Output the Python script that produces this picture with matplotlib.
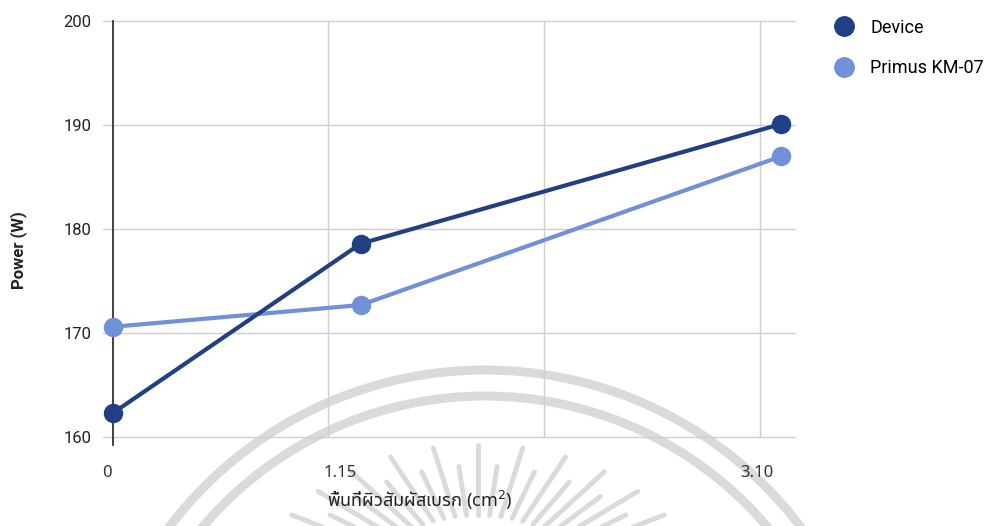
import numpy as np
import matplotlib
matplotlib.use("Agg")
import matplotlib.pyplot as plt
from matplotlib import font_manager
from matplotlib.ft2font import FT2Font
from matplotlib.patches import Arc
from matplotlib.transforms import ScaledTranslation

# contact area (cm^2) and measured power (W)
area = [0, 1.15, 3.10]
area_labels = ["0", "1.15", "3.10"]
device_power = [162.3, 178.6, 190.1]
primus_power = [170.6, 172.7, 187.0]
series_names = ["Device", "Primus KM-07"]
y_ticks = [160, 170, 180, 190, 200]
grid_x = [1, 2, 3]


def find_thai_font():
    preferred = ["Noto Sans Thai", "Noto Sans Thai UI", "Loma", "Garuda",
                 "Norasi", "Kinnari", "Tlwg Typo", "Noto Serif Thai"]
    found = {}
    for f in font_manager.fontManager.ttflist:
        try:
            cmap = FT2Font(f.fname).get_charmap()
        except Exception:
            continue
        if 0x0E1E in cmap and 0x0E34 in cmap:
            found.setdefault(f.name, f.fname)
    for name in preferred:
        if name in found:
            return name
    return next(iter(found), None)


thai_font = find_thai_font()
xlabel_family = [thai_font, "DejaVu Sans"] if thai_font else ["DejaVu Sans"]

plt.rcParams["font.family"] = ["Roboto", "DejaVu Sans"]

fig = plt.figure(figsize=(9.88, 5.26), dpi=100)

# faint seal watermark behind the chart (pixel space)
bg = fig.add_axes([0, 0, 1, 1], zorder=0)
bg.set_xlim(0, 988)
bg.set_ylim(526, 0)
bg.axis("off")
wm = "#dadada"
for r in (396, 370):
    bg.add_patch(Arc((485, 766), 2 * r, 2 * r, theta1=180, theta2=360,
                     color=wm, lw=6.5))
cx, cy = 478, 585
for i, ang in enumerate(np.linspace(18, 162, 25)):
    t = np.deg2rad(ang)
    k = 1.0 if i % 2 == 0 else 0.85
    x0, y0 = cx + 110 * np.cos(t), cy - 70 * np.sin(t)
    x1, y1 = cx + 215 * k * np.cos(t), cy - 140 * k * np.sin(t)
    bg.plot([x0, x1], [y0, y1], color=wm, lw=3.5, solid_capstyle="round")

ax = fig.add_axes([0.104, 0.169, 0.701, 0.791], zorder=1)
ax.patch.set_alpha(0)

dark = "#1f4083"
light = "#7090d9"

ax.plot(area, device_power, color=dark, lw=3, marker="o", ms=13,
        label=series_names[0], zorder=4, solid_capstyle="round")
ax.plot(area, primus_power, color=light, lw=3, marker="o", ms=13,
        label=series_names[1], zorder=3, solid_capstyle="round")

ax.set_xlim(-0.046, 3.165)
ax.set_ylim(160, 200)
ax.set_yticks(y_ticks)
ax.set_xticks(area)
ax.set_xticklabels(area_labels, family=xlabel_family, fontsize=12,
                   color="#333333")
ax.tick_params(axis="x", length=0, pad=20)
ax.tick_params(axis="y", length=0, labelsize=12, labelcolor="#222222",
               pad=8)

# nudge the area labels a little to the left
for lab, dx in zip(ax.get_xticklabels(), [-6, -21, -24]):
    lab.set_transform(lab.get_transform()
                      + ScaledTranslation(dx / 100, 0, fig.dpi_scale_trans))

for v in y_ticks:
    ax.axhline(v, color="#cfcfcf", lw=1, zorder=1, clip_on=False)
for v in grid_x:
    ax.axvline(v, color="#cfcfcf", lw=1, zorder=1)
ax.plot([0, 0], [159.2, 200], color="#333333", lw=1.3, zorder=2,
        clip_on=False)

for s in ax.spines.values():
    s.set_visible(False)

ax.set_ylabel("Power (W)", fontsize=12, fontweight="bold", color="#222222")
ax.yaxis.set_label_coords(-0.11, 0.45)
ax.set_xlabel("พื้นที่ผิวสัมผัสเบรก (cm$^2$)", family=xlabel_family,
              fontsize=13, color="#222222")
ax.xaxis.set_label_coords(0.458, -0.125)

leg = ax.legend(loc="upper left", bbox_to_anchor=(1.035, 1.045),
                frameon=False, fontsize=13, handlelength=0.9,
                handletextpad=1.0, labelspacing=1.25)
for h in leg.legend_handles:
    h.set_linestyle("none")
    h.set_markersize(14)

fig.savefig("out.png", dpi=100)
